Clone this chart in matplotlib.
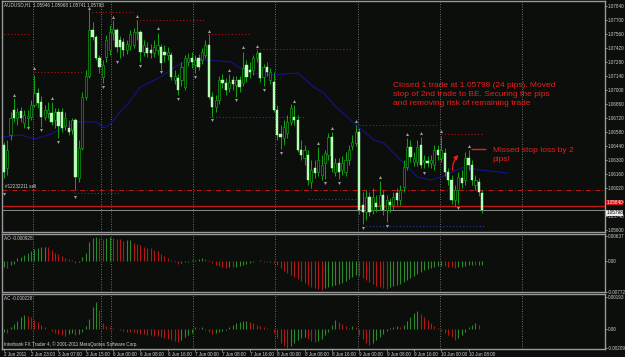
import numpy as np
import matplotlib
matplotlib.use('Agg')
import matplotlib.pyplot as plt
from matplotlib.transforms import blended_transform_factory

plt.rcParams['font.family'] = ['Liberation Sans', 'DejaVu Sans']

# AUDUSD H1 candles, 2 Jun 2011 15:00 .. 10 Jun 2011 12:00
opens = [1.0645, 1.0622, 1.0655, 1.0680, 1.0672, 1.0679, 1.0667, 1.0672, 1.0673, 1.0685,
         1.0697, 1.0688, 1.0673, 1.0677, 1.0677, 1.0670, 1.0678, 1.0678, 1.0664, 1.0662,
         1.0660, 1.0670, 1.0612, 1.0642, 1.0693, 1.0714, 1.0760, 1.0753, 1.0732, 1.0713,
         1.0733, 1.0740, 1.0757, 1.0760, 1.0750, 1.0748, 1.0740, 1.0744, 1.0745, 1.0757,
         1.0758, 1.0738, 1.0742, 1.0740, 1.0737, 1.0740, 1.0743, 1.0738, 1.0735, 1.0735,
         1.0710, 1.0712, 1.0710, 1.0703, 1.0728, 1.0732, 1.0725, 1.0732, 1.0730, 1.0735,
         1.0745, 1.0693, 1.0683, 1.0690, 1.0710, 1.0707, 1.0702, 1.0710, 1.0705, 1.0710,
         1.0707, 1.0725, 1.0720, 1.0720, 1.0732, 1.0737, 1.0713, 1.0723, 1.0710, 1.0708,
         1.0680, 1.0656, 1.0652, 1.0657, 1.0668, 1.0673, 1.0670, 1.0640, 1.0632, 1.0635,
         1.0608, 1.0622, 1.0618, 1.0615, 1.0627, 1.0635, 1.0653, 1.0618, 1.0627, 1.0620,
         1.0618, 1.0630, 1.0644, 1.0647, 1.0658, 1.0585, 1.0578, 1.0593, 1.0580, 1.0587,
         1.0585, 1.0595, 1.0580, 1.0588, 1.0585, 1.0597, 1.0590, 1.0603, 1.0623, 1.0643,
         1.0628, 1.0628, 1.0645, 1.0628, 1.0629, 1.0627, 1.0625, 1.0640, 1.0632, 1.0637,
         1.0618, 1.0610, 1.0590, 1.0600, 1.0612, 1.0610, 1.0632, 1.0625, 1.0605, 1.0608,
         1.0597]
highs = [1.0648, 1.0650, 1.0678, 1.0692, 1.0682, 1.0683, 1.0680, 1.0680, 1.0690, 1.0715,
         1.0702, 1.0694, 1.0685, 1.0688, 1.0688, 1.0682, 1.0682, 1.0682, 1.0678, 1.0670,
         1.0672, 1.0672, 1.0650, 1.0698, 1.0720, 1.0780, 1.0768, 1.0755, 1.0735, 1.0730,
         1.0755, 1.0765, 1.0770, 1.0762, 1.0754, 1.0752, 1.0750, 1.0760, 1.0762, 1.0770,
         1.0760, 1.0750, 1.0748, 1.0746, 1.0750, 1.0757, 1.0746, 1.0745, 1.0743, 1.0738,
         1.0720, 1.0716, 1.0728, 1.0735, 1.0737, 1.0738, 1.0735, 1.0736, 1.0742, 1.0750,
         1.0756, 1.0698, 1.0695, 1.0714, 1.0716, 1.0712, 1.0716, 1.0714, 1.0714, 1.0714,
         1.0738, 1.0730, 1.0728, 1.0735, 1.0740, 1.0738, 1.0726, 1.0728, 1.0722, 1.0718,
         1.0685, 1.0665, 1.0670, 1.0675, 1.0686, 1.0685, 1.0675, 1.0650, 1.0645, 1.0640,
         1.0630, 1.0630, 1.0643, 1.0635, 1.0640, 1.0657, 1.0658, 1.0632, 1.0632, 1.0634,
         1.0638, 1.0645, 1.0655, 1.0665, 1.0662, 1.0598, 1.0600, 1.0598, 1.0602, 1.0595,
         1.0609, 1.0600, 1.0595, 1.0592, 1.0598, 1.0602, 1.0605, 1.0630, 1.0652, 1.0650,
         1.0638, 1.0650, 1.0653, 1.0635, 1.0634, 1.0635, 1.0645, 1.0645, 1.0654, 1.0642,
         1.0622, 1.0615, 1.0605, 1.0618, 1.0620, 1.0638, 1.0640, 1.0630, 1.0615, 1.0612,
         1.0600]
lows = [1.0612, 1.0615, 1.0650, 1.0668, 1.0665, 1.0668, 1.0662, 1.0662, 1.0670, 1.0683,
        1.0682, 1.0663, 1.0670, 1.0672, 1.0665, 1.0662, 1.0652, 1.0658, 1.0660, 1.0655,
        1.0656, 1.0600, 1.0608, 1.0640, 1.0690, 1.0712, 1.0750, 1.0730, 1.0717, 1.0707,
        1.0728, 1.0735, 1.0750, 1.0738, 1.0732, 1.0734, 1.0736, 1.0740, 1.0742, 1.0750,
        1.0728, 1.0734, 1.0733, 1.0732, 1.0733, 1.0735, 1.0720, 1.0728, 1.0730, 1.0710,
        1.0706, 1.0695, 1.0704, 1.0700, 1.0724, 1.0722, 1.0717, 1.0720, 1.0726, 1.0732,
        1.0691, 1.0673, 1.0678, 1.0686, 1.0702, 1.0695, 1.0698, 1.0700, 1.0693, 1.0698,
        1.0704, 1.0708, 1.0712, 1.0715, 1.0728, 1.0708, 1.0704, 1.0714, 1.0706, 1.0678,
        1.0650, 1.0641, 1.0645, 1.0652, 1.0665, 1.0665, 1.0638, 1.0630, 1.0625, 1.0605,
        1.0602, 1.0612, 1.0614, 1.0610, 1.0611, 1.0630, 1.0618, 1.0614, 1.0611, 1.0615,
        1.0614, 1.0625, 1.0640, 1.0644, 1.0576, 1.0566, 1.0570, 1.0574, 1.0576, 1.0578,
        1.0580, 1.0575, 1.0568, 1.0578, 1.0580, 1.0585, 1.0585, 1.0598, 1.0620, 1.0628,
        1.0624, 1.0624, 1.0622, 1.0622, 1.0623, 1.0622, 1.0620, 1.0630, 1.0628, 1.0614,
        1.0605, 1.0586, 1.0584, 1.0586, 1.0602, 1.0605, 1.0620, 1.0605, 1.0600, 1.0594,
        1.0577]
closes = [1.0618, 1.0640, 1.0672, 1.0672, 1.0678, 1.0672, 1.0675, 1.0674, 1.0685, 1.0697,
          1.0687, 1.0673, 1.0680, 1.0680, 1.0668, 1.0678, 1.0664, 1.0662, 1.0672, 1.0658,
          1.0670, 1.0613, 1.0642, 1.0693, 1.0714, 1.0760, 1.0753, 1.0732, 1.0723, 1.0725,
          1.0750, 1.0758, 1.0761, 1.0743, 1.0743, 1.0740, 1.0746, 1.0756, 1.0758, 1.0758,
          1.0738, 1.0745, 1.0737, 1.0737, 1.0743, 1.0745, 1.0727, 1.0735, 1.0738, 1.0713,
          1.0714, 1.0700, 1.0723, 1.0732, 1.0732, 1.0728, 1.0730, 1.0723, 1.0738, 1.0745,
          1.0693, 1.0683, 1.0690, 1.0710, 1.0707, 1.0700, 1.0708, 1.0706, 1.0710, 1.0703,
          1.0722, 1.0713, 1.0718, 1.0732, 1.0737, 1.0712, 1.0723, 1.0718, 1.0718, 1.0680,
          1.0655, 1.0653, 1.0663, 1.0668, 1.0682, 1.0670, 1.0640, 1.0635, 1.0640, 1.0610,
          1.0620, 1.0617, 1.0630, 1.0625, 1.0637, 1.0653, 1.0622, 1.0627, 1.0618, 1.0627,
          1.0630, 1.0640, 1.0648, 1.0658, 1.0580, 1.0578, 1.0593, 1.0578, 1.0593, 1.0583,
          1.0595, 1.0580, 1.0590, 1.0585, 1.0593, 1.0590, 1.0600, 1.0623, 1.0643, 1.0633,
          1.0632, 1.0643, 1.0625, 1.0630, 1.0627, 1.0630, 1.0640, 1.0635, 1.0640, 1.0618,
          1.0610, 1.0590, 1.0600, 1.0613, 1.0607, 1.0632, 1.0625, 1.0610, 1.0610, 1.0598,
          1.05798]

# moving average line (bar, price)
ma_bars = [0, 5, 9, 14, 17, 22, 27, 29.5, 31.5, 34.5, 36.5, 40, 46, 50, 54, 59, 66.5, 71.5,
           78, 86, 90.7, 93.7, 96.6, 101.5, 108.3, 111.2, 117, 121, 125, 128, 134.5, 139.5, 147.4]
ma_vals = [1.0653, 1.0655, 1.0651, 1.0656, 1.0662, 1.0668, 1.0668, 1.0662, 1.0667, 1.0680,
           1.0687, 1.0703, 1.0713, 1.0723, 1.0730, 1.0730, 1.0728, 1.0717, 1.0715, 1.0717,
           1.0703, 1.0697, 1.0685, 1.0670, 1.0650, 1.0647, 1.0627, 1.0613, 1.0610, 1.0613,
           1.0623, 1.0620, 1.0617]

# fractals
frac_up_bars = [3, 9, 14, 25, 32, 39, 45, 60, 66, 70, 74, 85, 92, 96, 103, 110, 118, 122, 128, 136]
frac_up_vals = [1.0695, 1.0722, 1.0692, 1.0782, 1.0773, 1.0774, 1.0762, 1.0759, 1.0720, 1.0743,
                1.0744, 1.0689, 1.0647, 1.0662, 1.0669, 1.0613, 1.0656, 1.0657, 1.0659, 1.0644]
frac_dn_bars = [0, 7, 11, 16, 21, 29, 33, 40, 46, 51, 56, 61, 68, 76, 81, 94, 98, 105, 112, 123, 133]
frac_dn_vals = [1.0596, 1.0662, 1.0660, 1.0648, 1.0593, 1.0703, 1.0728, 1.0724, 1.0718, 1.0691,
                1.0713, 1.0670, 1.0690, 1.0700, 1.0637, 1.0607, 1.0607, 1.0562, 1.0564, 1.0617, 1.0582]

# fractal levels (start bar, end bar, price)
res_start = [0, 9, 25.7, 38.8, 59.8, 73.8, 103.9, 127.8]
res_end = [7.6, 23.6, 37.9, 58.7, 72.4, 101.5, 126.9, 140.4]
res_vals = [1.0756, 1.0718, 1.0778, 1.0770, 1.0756, 1.0741, 1.0665, 1.0656]
sup_start = [20.7, 60.1, 89, 105.9]
sup_end = [34.4, 88.4, 103, 140.4]
sup_vals = [1.0597, 1.0673, 1.0591, 1.0564]

# order lines
sl_level = 1.0600
order_level = 1.0584
bid_level = 1.05798

# Awesome Oscillator
ao = [-0.0015, -0.00175, -0.001, -0.00075, 0.00075, 0.001, 0.0015, 0.002, 0.0025, 0.003,
      0.00325, 0.0035, 0.00355, 0.00345, 0.00275, 0.002, 0.00175, 0.00125, 0.00075, 0.0005,
      0.00025, -0.0005, -0.00025, 0.001, 0.002, 0.00475, 0.00575, 0.006, 0.00575, 0.0055,
      0.00575, 0.00588, 0.0058, 0.0055, 0.00538, 0.005, 0.00513, 0.00525, 0.0045, 0.00425,
      0.004, 0.0035, 0.00325, 0.00313, 0.00275, 0.0025, 0.00175, 0.00125, 0.00075, 0.00025,
      -0.00025, -0.00075, -0.0005, -0.00025, -0.00013, 0.00013, 0.00025, 0.0005, 0.00063, 0.0005,
      0.00025, -0.0005, -0.001, -0.00125, -0.0015, -0.00163, -0.0015, -0.00158, -0.0015, -0.00125,
      -0.001, -0.00075, -0.0005, -0.00025, 0.0, 0.00013, -0.00025, -0.0003, -0.00025, -0.0005,
      -0.001, -0.00175, -0.0025, -0.003, -0.0035, -0.004, -0.0045, -0.005, -0.0055, -0.006,
      -0.0065, -0.00675, -0.007, -0.00713, -0.00675, -0.0065, -0.00625, -0.006, -0.00575, -0.0055,
      -0.005, -0.0045, -0.004, -0.0035, -0.00375, -0.00425, -0.00475, -0.00525, -0.00575, -0.00625,
      -0.0065, -0.00675, -0.00688, -0.0065, -0.00625, -0.006, -0.00575, -0.00525, -0.00475, -0.00425,
      -0.00375, -0.00325, -0.00275, -0.00225, -0.002, -0.00175, -0.0015, -0.00125, -0.00113, -0.00125,
      -0.00138, -0.0015, -0.00163, -0.00155, -0.00138, -0.00125, -0.00105, -0.001, -0.00108, -0.001,
      -0.00093]

# Accelerator Oscillator
ac = [-0.00018, -0.00021, 0.00012, 0.0003, 0.00048, 0.00072, 0.00084, 0.00078, 0.00072, 0.00054,
      0.00042, 0.00024, 0.00012, 0.0, -0.00012, -0.00024, -0.0003, -0.00036, -0.00039, -0.0003,
      -0.00024, -0.00036, -0.0003, -0.00018, 0.00018, 0.0006, 0.00132, 0.00162, 0.00114, 0.00036,
      0.00018, 0.00012, 0.00006, 0.0, -0.00006, -0.00012, -0.00015, -0.00018, -0.00019, -0.00024,
      -0.00027, -0.0003, -0.00033, -0.00036, -0.00039, -0.00042, -0.00048, -0.00054, -0.0006, -0.00066,
      -0.00072, -0.00078, -0.00066, -0.00048, -0.00036, -0.00024, 0.00012, 0.00006, 0.00012, -0.00006,
      -0.00018, -0.0003, -0.00024, -0.00018, -0.00012, -0.00006, 0.00012, 0.00024, 0.00036, 0.00042,
      0.00048, 0.00051, 0.00042, 0.00036, 0.00024, 0.00018, 0.00012, 0.00006, 0.0, -0.00024,
      -0.00054, -0.00084, -0.00102, -0.00114, -0.00102, -0.00084, -0.00066, -0.00054, -0.00048, -0.0006,
      -0.00072, -0.00078, -0.00072, -0.0006, -0.00036, -0.00018, 0.00024, 0.00054, 0.00042, 0.0003,
      0.00018, 0.00006, 0.00018, 0.00012, -0.00036, -0.0006, -0.00084, -0.00096, -0.00084, -0.00066,
      -0.00048, -0.0003, -0.00012, 0.00006, 0.00012, 0.00018, 0.00015, 0.00024, 0.00048, 0.00072,
      0.00096, 0.00108, 0.0009, 0.00072, 0.00054, 0.00036, 0.00018, 0.00006, -0.00012, -0.00024,
      -0.00036, -0.00048, -0.00066, -0.00054, -0.00036, -0.00018, 0.00012, 0.00024, 0.00036, 0.00024,
      -0.00002]

time_labels = ['2 Jun 2011', '2 Jun 23:00', '3 Jun 07:00', '3 Jun 15:00', '6 Jun 00:00',
               '6 Jun 08:00', '6 Jun 16:00', '7 Jun 00:00', '7 Jun 08:00', '7 Jun 16:00',
               '8 Jun 00:00', '8 Jun 08:00', '8 Jun 16:00', '9 Jun 00:00', '9 Jun 08:00',
               '9 Jun 16:00', '10 Jun 00:00', '10 Jun 08:00']
time_ticks = [0, 8, 16, 24, 32, 40, 48, 56, 64, 72, 80, 88, 96, 104, 112, 120, 128, 136]
grid_bars = [8.6, 28.6, 31.5, 55.5, 79.5, 103.5, 127.5, 151.5]

price_ticks = [1.07840, 1.07700, 1.07560, 1.07420, 1.07280, 1.07140, 1.07000, 1.06860, 1.06720,
               1.06580, 1.06440, 1.06300, 1.06160, 1.06020, 1.05880, 1.05740, 1.05600]

BG = '#0b0e0b'
FG = '#d0d0d0'
SEP = '#9a9a9a'
GREEN = '#12a012'
BODY = '#b4ffb4'
RED_LVL = '#b01414'
BLUE_LVL = '#2a3ca8'
SMALL = 3.3

fig = plt.figure(figsize=(6.25, 3.57), dpi=100, facecolor=BG)
W, H = 625.0, 357.0


def px_axes(top, bottom):
    return fig.add_axes([2 / W, 1 - bottom / H, 603 / W, (bottom - top) / H])


ax = px_axes(1, 232)
ax_ao = px_axes(234, 292)
ax_ac = px_axes(294, 349)

xmax = 175.9
for a in (ax, ax_ao, ax_ac):
    a.set_facecolor(BG)
    a.set_xlim(-0.5, xmax)
    for s in a.spines.values():
        s.set_color(SEP)
        s.set_linewidth(1.0)
    a.yaxis.tick_right()
    a.tick_params(axis='y', colors=FG, labelsize=SMALL, length=1.2, width=0.5, pad=0.6)
    a.tick_params(axis='x', colors=FG, labelsize=SMALL, length=1.5, width=0.5, pad=0.8)
    a.set_xticks([])
    for g in grid_bars:
        a.axvline(g, color='#7a7a7a', lw=0.6, ls=(0, (1.2, 1.8)), zorder=1)

# ---- main price panel
x = np.arange(len(opens))
o = np.array(opens)
c = np.array(closes)
bull = c >= o
ax.vlines(x, lows, highs, color=GREEN, lw=0.75, zorder=3)
bottoms = np.minimum(o, c)
heights = np.maximum(np.abs(c - o), 0.00006)
ax.bar(x[bull], heights[bull], bottom=bottoms[bull], width=0.62, color=BG,
       edgecolor=GREEN, linewidth=0.5, zorder=4)
ax.bar(x[~bull], heights[~bull], bottom=bottoms[~bull], width=0.66, color=BODY,
       edgecolor=BODY, linewidth=0.3, zorder=4)

ax.plot(ma_bars, ma_vals, color='#14148c', lw=0.8, zorder=2)

ax.scatter(frac_up_bars, frac_up_vals, marker='^', s=5, color='#9a9a9a', linewidths=0, zorder=5)
ax.scatter(frac_dn_bars, frac_dn_vals, marker='v', s=5, color='#9a9a9a', linewidths=0, zorder=5)

ax.hlines(res_vals, res_start, res_end, color=RED_LVL, lw=0.8, linestyles=(0, (1, 2)), zorder=2)
ax.hlines(sup_vals, sup_start, sup_end, color=BLUE_LVL, lw=0.8, linestyles=(0, (1, 2)), zorder=2)

ax.axhline(sl_level, color='#c01818', lw=0.7, ls=(0, (5, 2, 1, 2)), zorder=2)
ax.axhline(order_level, color='#c01818', lw=1.0, zorder=2)
ax.axhline(bid_level, color='#8a8a8a', lw=0.7, zorder=2)

ax.set_ylim(1.0558, 1.0789)
ax.set_yticks(price_ticks)
ax.set_yticklabels(['%.5f' % v for v in price_ticks])

trans = blended_transform_factory(ax.transAxes, ax.transData)
ax.text(1.002, order_level + 0.00035, '%.5f' % order_level, transform=trans, fontsize=SMALL,
        color='white', va='center', ha='left', zorder=6,
        bbox=dict(boxstyle='square,pad=0.1', fc='#d01010', ec='none'))
ax.text(1.002, bid_level - 0.00025, '%.5f' % bid_level, transform=trans, fontsize=SMALL,
        color='black', va='center', ha='left', zorder=7,
        bbox=dict(boxstyle='square,pad=0.1', fc='#e8e8e8', ec='none'))

ax.text(0.003, 0.995, 'AUDUSD,H1  1.05946 1.05968 1.05741 1.05793', transform=ax.transAxes,
        fontsize=SMALL, color=FG, va='top', ha='left')
ax.text(0.3, sl_level + 0.0001, '#12232211 sell', fontsize=SMALL, color=FG, va='bottom', ha='left')

note_font = dict(color='#e8201c', fontsize=6)
ax.text(113.8, 1.0708, 'Closed 1 trade at 1.05798 (24 pips). Moved\nstop of 2nd trade to BE. '
        'Securing the pips\nand removing risk of remaining trade', va='top', ha='left',
        linespacing=1.45, zorder=8, **note_font)
ax.text(143, 1.0643, 'Missed stop loss by 2\npips!', va='top', ha='left', linespacing=1.45,
        zorder=8, **note_font)
ax.hlines(1.0641, 136.6, 141, color='#e8201c', lw=1.0, zorder=8)
ax.annotate('', xy=(133.6, 1.0637), xytext=(131.3, 1.0617),
            arrowprops=dict(arrowstyle='-|>,head_length=0.25,head_width=0.12', color='#e8201c',
                            lw=0.9, connectionstyle='arc3,rad=-0.25'), zorder=8)

# ---- AO panel
ao_arr = np.array(ao)
ao_up = np.r_[True, ao_arr[1:] > ao_arr[:-1]]
ax_ao.vlines(x[ao_up], 0, ao_arr[ao_up], color='#2c8a2c', lw=0.8, zorder=3)
ax_ao.vlines(x[~ao_up], 0, ao_arr[~ao_up], color='#b31818', lw=0.8, zorder=3)
ax_ao.set_ylim(-0.00775, 0.00675)
ax_ao.set_yticks([0.00637, 0.0, -0.00772])
ax_ao.set_yticklabels(['0.00637', '0.00', '-0.00772'])
ax_ao.text(0.003, 0.96, 'AO -0.000928', transform=ax_ao.transAxes, fontsize=SMALL, color=FG,
           va='top', ha='left')

# ---- AC panel
ac_arr = np.array(ac)
ac_up = np.r_[True, ac_arr[1:] > ac_arr[:-1]]
ax_ac.vlines(x[ac_up], 0, ac_arr[ac_up], color='#2c8a2c', lw=0.8, zorder=3)
ax_ac.vlines(x[~ac_up], 0, ac_arr[~ac_up], color='#b31818', lw=0.8, zorder=3)
ax_ac.set_ylim(-0.0012, 0.0021)
ax_ac.set_yticks([0.00193, 0.0, -0.00115])
ax_ac.set_yticklabels(['0.00193', '0.00', '-0.00209'])
ax_ac.text(0.003, 0.96, 'AC -0.000228', transform=ax_ac.transAxes, fontsize=SMALL, color=FG,
           va='top', ha='left')
ax_ac.text(0.003, 0.04, 'Interbank FX Trader 4, \u00a9 2001-2011 MetaQuotes Software Corp.',
           transform=ax_ac.transAxes, fontsize=SMALL, color=FG, va='bottom', ha='left')
ax_ac.set_xticks(time_ticks)
ax_ac.set_xticklabels(time_labels, ha='left')

fig.savefig('out.png', dpi=100, facecolor=BG)
